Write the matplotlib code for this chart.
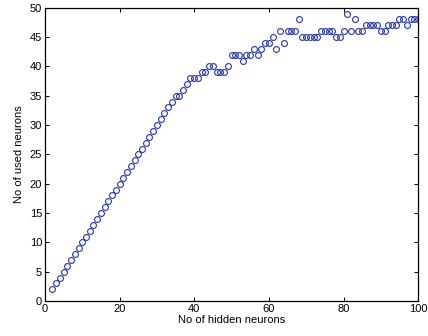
import matplotlib
matplotlib.use("Agg")
import matplotlib.pyplot as plt

# number of hidden neurons (x) vs number of used neurons (y)
hidden = list(range(2, 101))
used = [
    2, 3, 4, 5, 6, 7, 8, 9, 10, 11,
    12, 13, 14, 15, 16, 17, 18, 19, 20, 21,
    22, 23, 24, 25, 26, 27, 28, 29, 30, 31,
    32, 33, 34, 35, 35, 36, 37, 38, 38, 38,
    39, 39, 40, 40, 39, 39, 39, 40, 42, 42,
    42, 41, 42, 42, 43, 42, 43, 44, 44, 45,
    43, 46, 44, 46, 46, 46, 48, 45, 45, 45,
    45, 45, 46, 46, 46, 46, 45, 45, 46, 49,
    46, 48, 46, 46, 47, 47, 47, 47, 46, 46,
    47, 47, 47, 48, 48, 47, 48, 48, 48,
]

plt.rcParams["font.family"] = ["Liberation Sans", "DejaVu Sans"]

fig = plt.figure(figsize=(4.28, 3.36), dpi=100)
ax = fig.add_axes([0.105, 0.104, 0.872, 0.873])

ax.plot(hidden, used, linestyle="none", marker="o", markersize=4.2,
        markerfacecolor="none", markeredgecolor="#2236b4", markeredgewidth=0.8)

ax.set_xlim(0, 100)
ax.set_ylim(0, 50)
ax.set_xticks(range(0, 101, 20))
ax.set_yticks(range(0, 51, 5))
ax.tick_params(direction="in", length=3, width=0.7, labelsize=8,
               top=True, right=True, pad=2)
for s in ax.spines.values():
    s.set_linewidth(0.9)

ax.set_xlabel("No of hidden neurons", fontsize=8, labelpad=1)
ax.set_ylabel("No of used neurons", fontsize=8, labelpad=4)

fig.savefig("out.png", dpi=100)
